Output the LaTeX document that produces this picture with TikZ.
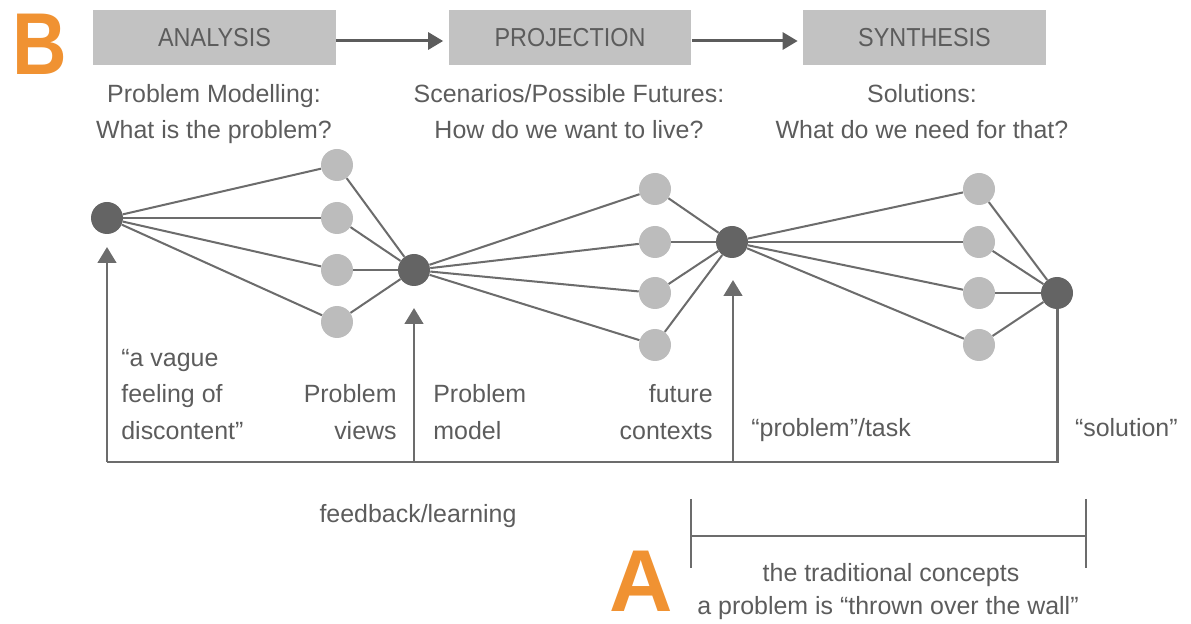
\documentclass[tikz,border=0pt]{standalone}
\usepackage{fontspec}
\setmainfont{Liberation Sans}
\newfontfamily\headfont{Liberation Sans}[FakeStretch=0.9]
\usetikzlibrary{arrows.meta}
\definecolor{ink}{RGB}{92,92,92}
\definecolor{wire}{RGB}{108,108,108}
\definecolor{darkdot}{RGB}{100,100,100}
\definecolor{lightdot}{RGB}{188,188,188}
\definecolor{boxfill}{RGB}{194,194,194}
\definecolor{tag}{RGB}{240,146,50}

\begin{document}
\begin{tikzpicture}[x=0.02cm,y=-0.02cm,
  lbl/.style={text=ink,font=\fontsize{14.2}{17}\selectfont,inner sep=0pt},
  phase/.style={fill=boxfill,draw=none,minimum width=4.86cm,minimum height=1.1cm,
    inner sep=0pt,text=ink,text height=0.37cm,text depth=0pt,
    font=\headfont\fontsize{14.8}{17}\selectfont},
  hub/.style={circle,fill=darkdot,inner sep=0pt,minimum size=0.64cm},
  leaf/.style={circle,fill=lightdot,inner sep=0pt,minimum size=0.64cm},
  link/.style={draw=wire,line width=1.15pt},
  flow/.style={draw=wire,line width=1.7pt,line join=miter},
  uparrow/.style={flow,-{Triangle[width=0.37cm,length=0.32cm]}},
  steparrow/.style={draw=ink,line width=1.7pt,-{Triangle[width=0.34cm,length=0.3cm]}},
  bracket/.style={draw=wire,line width=0.9pt},
  letter/.style={text=tag,inner sep=0pt,text depth=0pt,font=\bfseries\fontsize{50}{50}\selectfont}
]
\useasboundingbox (0,0) rectangle (1191,624);

% phase boxes along the top
\node[phase] (ana) at (214.5,37.5) {ANALYSIS};
\node[phase] (pro) at (570,37.5) {PROJECTION};
\node[phase] (syn) at (924.5,37.5) {SYNTHESIS};
\draw[steparrow] ([yshift=-0.07cm]ana.east) -- ([yshift=-0.07cm,xshift=-0.1cm]pro.west);
\draw[steparrow] ([yshift=-0.07cm]pro.east) -- ([yshift=-0.07cm,xshift=-0.1cm]syn.west);

% phase questions
\node[lbl,anchor=base] (q1a) at (214,103) {Problem Modelling:};
\node[lbl,anchor=base] (q1b) at (214,139) {What is the problem?};
\node[lbl,anchor=base] (q2a) at (569,103) {Scenarios/Possible Futures:};
\node[lbl,anchor=base] (q2b) at (569,139) {How do we want to live?};
\node[lbl,anchor=base] (q3a) at (922,103) {Solutions:};
\node[lbl,anchor=base] (q3b) at (922,139) {What do we need for that?};

% network: hubs and their branches
\node[hub] (h0) at (107,218) {};
\node[hub] (h1) at (414,270) {};
\node[hub] (h2) at (732,242) {};
\node[hub] (h3) at (1057,293) {};
\foreach \y [count=\i] in {165,218,270,322} {
  \node[leaf] (a\i) at (337,\y) {};
}
\foreach \y [count=\i] in {189,242,293,345} {
  \node[leaf] (b\i) at (655,\y) {};
  \node[leaf] (c\i) at (979,\y) {};
}
\foreach \i in {1,...,4} {
  \draw[link] (h0) -- (a\i);
  \draw[link] (a\i) -- (h1);
  \draw[link] (h1) -- (b\i);
  \draw[link] (b\i) -- (h2);
  \draw[link] (h2) -- (c\i);
  \draw[link] (c\i) -- (h3);
}

% feedback loop underneath
\coordinate (f0) at (107,462);
\coordinate (f1) at (414,462);
\coordinate (f2) at (733,462);
\coordinate (f3) at (1057,462);
\coordinate (t0) at (107,247);
\coordinate (t1) at (414,308);
\coordinate (t2) at (733,280);
\draw[flow] (h3) -- (f3) -- (f0);
\draw[uparrow] (f0) -- (t0);
\draw[uparrow] (f1) -- (t1);
\draw[uparrow] (f2) -- (t2);

% stage labels
\node[lbl,anchor=base west] (v1) at (121,367) {“a vague};
\node[lbl,anchor=base west] (v2) at (121,403) {feeling of};
\node[lbl,anchor=base west] (v3) at (121,440) {discontent”};
\node[lbl,anchor=base east] (pv1) at (397,403) {Problem};
\node[lbl,anchor=base east] (pv2) at (397,440) {views};
\node[lbl,anchor=base west] (pm1) at (433,403) {Problem};
\node[lbl,anchor=base west] (pm2) at (433,440) {model};
\node[lbl,anchor=base east] (fc1) at (713,403) {future};
\node[lbl,anchor=base east] (fc2) at (713,440) {contexts};
\node[lbl,anchor=base west] (pt) at (751,437) {“problem”/task};
\node[lbl,anchor=base east] (sol) at (1178,437) {“solution”};
\node[lbl,anchor=base] (fb) at (418,523) {feedback/learning};

% span of the traditional concepts
\coordinate (s0) at (691,536);
\coordinate (s1) at (1086,536);
\draw[bracket] (691,499) -- (691,568);
\draw[bracket] (1086,499) -- (1086,568);
\draw[bracket] (s0) -- (s1);
\node[lbl,anchor=base] (tc1) at (891,582) {the traditional concepts};
\node[lbl,anchor=base] (tc2) at (888,615) {a problem is “thrown over the wall”};

% panel letters
\node[letter,anchor=base west] (lb) at (12,75) {\scalebox{0.86}[1]{B}};
\node[letter,anchor=base west] (la) at (609,612) {A};
\end{tikzpicture}
\end{document}
